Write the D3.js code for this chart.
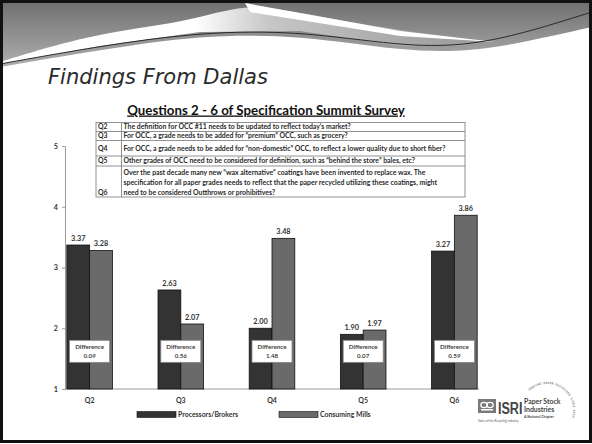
<!DOCTYPE html>
<html><head><meta charset="utf-8">
<script src="https://cdn.jsdelivr.net/npm/d3@7"></script>
<style>body{margin:0;background:#fff}svg{display:block}</style>
</head><body>
<svg id="c" width="592" height="444"></svg>
<script>
// ---------- data ----------
const categories = ["Q2", "Q3", "Q4", "Q5", "Q6"];
const seriesNames = ["Processors/Brokers", "Consuming Mills"];
const processors = [3.37, 2.63, 2.00, 1.90, 3.27];
const mills = [3.28, 2.07, 3.48, 1.97, 3.86];
const yTickValues = [1, 2, 3, 4, 5];
const slideTitle = "Findings From Dallas";
const chartTitle = "Questions 2 - 6 of Specification Summit Survey";
const questionIds = ["Q2", "Q3", "Q4", "Q5", "Q6"];
const questionLines = [
  ["The definition for OCC #11 needs to be updated to reflect today\u2019s market?"],
  ["For OCC, a grade needs to be added for \u201cpremium\u201d OCC, such as grocery?"],
  ["For OCC, a grade needs to be added for \u201cnon-domestic\u201d OCC, to reflect a lower quality due to short fiber?"],
  ["Other grades of OCC need to be considered for definition, such as \u201cbehind the store\u201d bales, etc?"],
  ["Over the past decade many new \u201cwax alternative\u201d coatings have been invented to replace wax.  The",
   "specification for all paper grades needs to reflect that the paper recycled utilizing these coatings, might",
   "need to be considered Outthrows or prohibitives?"]
];
const diffLabel = "Difference";
const logoArcText = "SERVING PAPER RECYCLERS SINCE 1925";

// ---------- drawing ----------
const svg = d3.select("#c");
const FONT = "Lato, 'Open Sans', sans-serif";
const defs = svg.append("defs");

// header decoration
const gTop = defs.append("linearGradient").attr("id", "gTop").attr("x1", 0).attr("y1", 0).attr("x2", 0).attr("y2", 1);
gTop.append("stop").attr("offset", "0%").attr("stop-color", "#6e6e6e");
gTop.append("stop").attr("offset", "100%").attr("stop-color", "#b4b4b4");
const gMid = defs.append("linearGradient").attr("id", "gMid").attr("x1", 0).attr("y1", 0).attr("x2", 1).attr("y2", 0);
gMid.append("stop").attr("offset", "0%").attr("stop-color", "#ffffff");
gMid.append("stop").attr("offset", "40%").attr("stop-color", "#ffffff");
gMid.append("stop").attr("offset", "55%").attr("stop-color", "#c6c6c6");
gMid.append("stop").attr("offset", "85%").attr("stop-color", "#a6a6a6");
gMid.append("stop").attr("offset", "100%").attr("stop-color", "#9a9a9a");

const smooth = d3.line().curve(d3.curveBasis);
svg.append("rect").attr("x", 0).attr("y", 0).attr("width", 592).attr("height", 72).attr("fill", "url(#gTop)");
const lowerEdge = [[0,67],[100,50],[200,35],[300,35],[400,51],[470,52],[530,41],[592,27]];
svg.append("path").attr("d", smooth(lowerEdge) + "L592,80L0,80Z").attr("fill", "#fff");
const lineT = [[0,64],[100,46],[200,32],[300,31],[400,46],[465,46],[520,34],[560,22],[592,12]];
const upperU = [[0,62],[90,34],[190,22],[245,3],[300,13],[400,31],[490,41]];
const tBack = lineT.filter(p => p[0] <= 490).slice().reverse();
svg.append("path").attr("d", smooth(upperU) + "L" + tBack.map(p => p.join(",")).join("L") + "Z")
  .attr("fill", "url(#gMid)");
const streak = [[245,3],[300,13],[400,31],[495,42],[400,36],[300,20],[250,12],[245,3]];
svg.append("path").attr("d", d3.line().curve(d3.curveLinearClosed)(streak)).attr("fill", "#fff");
svg.append("path").attr("d", smooth(lineT)).attr("fill", "none").attr("stroke", "#2a2a2a").attr("stroke-width", 1);

// slide title
svg.append("text").attr("x", 48).attr("y", 84).text(slideTitle)
  .attr("font-family", "'DejaVu Sans', Verdana, sans-serif").attr("font-style", "italic")
  .attr("font-size", 21).attr("fill", "#2a2a2a");

// chart title
svg.append("text").attr("x", 266).attr("y", 114.5).attr("text-anchor", "middle").text(chartTitle)
  .attr("font-family", FONT).attr("font-weight", "bold").attr("font-size", 13.3)
  .attr("text-decoration", "underline").attr("fill", "#111");

// scales
const y = d3.scaleLinear().domain([1, 5]).range([389, 146]);
const x = d3.scaleBand().domain(categories).range([65, 479]).paddingInner(0.5).paddingOuter(0.02);
const xs = d3.scaleBand().domain(seriesNames).range([0, x.bandwidth()]);
const colors = d3.scaleOrdinal().domain(seriesNames).range(["#333333", "#6a6a6a"]);

// y axis
const yAxis = svg.append("g").attr("transform", "translate(65,0)")
  .call(d3.axisLeft(y).tickValues(yTickValues).tickFormat(d3.format("d")).tickSize(3).tickPadding(4));
yAxis.attr("font-family", FONT).attr("font-size", 7.2);
yAxis.select(".domain").attr("stroke", "#9a9a9a");
yAxis.selectAll(".tick line").attr("stroke", "#9a9a9a");
yAxis.selectAll("text").attr("font-family", FONT).attr("font-weight", "bold").attr("font-size", 7.2).attr("fill", "#333");

// question table
const rowEdges = [122.5, 131.5, 140.5, 156, 166, 197];
const TFS = 6.9;
const tbl = svg.append("g");
tbl.append("rect").attr("x", 96).attr("y", rowEdges[0]).attr("width", 369).attr("height", rowEdges[5] - rowEdges[0])
  .attr("fill", "#fff").attr("stroke", "#777").attr("stroke-width", 0.8);
rowEdges.slice(1, 5).forEach(e => tbl.append("line").attr("x1", 96).attr("x2", 465).attr("y1", e).attr("y2", e)
  .attr("stroke", "#777").attr("stroke-width", 0.8));
tbl.append("line").attr("x1", 121.5).attr("x2", 121.5).attr("y1", rowEdges[0]).attr("y2", rowEdges[5])
  .attr("stroke", "#777").attr("stroke-width", 0.8);
questionIds.forEach((q, i) => {
  const lines = questionLines[i];
  const bottom = rowEdges[i + 1];
  const top = rowEdges[i];
  const lh = 10;
  const firstBase = lines.length > 1 ? top + 9 : (top + bottom) / 2 + 2.4;
  tbl.append("text").attr("x", 98).attr("y", firstBase + (lines.length - 1) * lh).text(q)
    .attr("font-family", FONT).attr("font-weight", "bold").attr("font-size", TFS).attr("fill", "#2a2a2a");
  lines.forEach((ln, j) => tbl.append("text").attr("x", 123.5).attr("y", firstBase + j * lh).text(ln)
    .attr("font-family", FONT).attr("font-weight", "bold").attr("font-size", TFS).attr("fill", "#2a2a2a"));
});

// x axis line
svg.append("line").attr("x1", 65).attr("x2", 479).attr("y1", y(1)).attr("y2", y(1)).attr("stroke", "#9a9a9a");

// bars
const rows = categories.map((c, i) => ({ cat: c, vals: [processors[i], mills[i]] }));
const groups = svg.append("g").selectAll("g").data(rows).join("g")
  .attr("transform", d => `translate(${x(d.cat)},0)`);
groups.selectAll("rect").data(d => d.vals.map((v, k) => ({ s: seriesNames[k], v }))).join("rect")
  .attr("x", d => xs(d.s)).attr("width", xs.bandwidth())
  .attr("y", d => y(d.v)).attr("height", d => y(1) - y(d.v))
  .attr("fill", d => colors(d.s)).attr("stroke", "#111").attr("stroke-width", 0.8);
groups.selectAll("text.val").data(d => d.vals.map((v, k) => ({ s: seriesNames[k], v }))).join("text")
  .attr("class", "val").attr("x", d => xs(d.s) + xs.bandwidth() / 2).attr("y", d => y(d.v) - 4)
  .attr("text-anchor", "middle").text(d => d.v.toFixed(2))
  .attr("font-family", FONT).attr("font-weight", "bold").attr("font-size", 7.3).attr("fill", "#333");

// difference boxes
const boxes = groups.append("g").attr("transform", `translate(${x.bandwidth() / 2},${y(1.62)})`);
boxes.append("rect").attr("x", -20).attr("y", -11).attr("width", 40).attr("height", 22)
  .attr("fill", "#fff").attr("stroke", "#888").attr("stroke-width", 0.8);
boxes.append("text").attr("y", -2).attr("text-anchor", "middle").text(diffLabel)
  .attr("font-family", FONT).attr("font-weight", "bold").attr("font-size", 6.2).attr("fill", "#444");
boxes.append("text").attr("y", 7).attr("text-anchor", "middle").text(d => Math.abs(d.vals[0] - d.vals[1]).toFixed(2))
  .attr("font-family", FONT).attr("font-weight", "bold").attr("font-size", 6.2).attr("fill", "#444");

// category labels
svg.append("g").selectAll("text").data(categories).join("text")
  .attr("x", d => x(d) + x.bandwidth() / 2).attr("y", 402.5).attr("text-anchor", "middle").text(d => d)
  .attr("font-family", FONT).attr("font-weight", "bold").attr("font-size", 7).attr("fill", "#333");

// legend
const legX = [137, 279];
const leg = svg.append("g").selectAll("g").data(seriesNames).join("g")
  .attr("transform", (d, i) => `translate(${legX[i]},411.5)`);
leg.append("rect").attr("width", 39).attr("height", 6).attr("fill", d => colors(d)).attr("stroke", "#111").attr("stroke-width", 0.6);
leg.append("text").attr("x", 41).attr("y", 5.6).text(d => d)
  .attr("font-family", FONT).attr("font-weight", "bold").attr("font-size", 6.9).attr("fill", "#333");

// logo
const logo = svg.append("g");
logo.append("rect").attr("x", 478).attr("y", 399).attr("width", 18).attr("height", 14).attr("fill", "#7a7a7a");
logo.append("ellipse").attr("cx", 484).attr("cy", 405).attr("rx", 3.2).attr("ry", 2.6).attr("fill", "none").attr("stroke", "#fff").attr("stroke-width", 1.2);
logo.append("ellipse").attr("cx", 490).attr("cy", 405).attr("rx", 3.2).attr("ry", 2.6).attr("fill", "none").attr("stroke", "#fff").attr("stroke-width", 1.2);
logo.append("rect").attr("x", 481).attr("y", 409).attr("width", 12).attr("height", 1.5).attr("fill", "#fff");
logo.append("text").attr("transform", "translate(498,414) scale(0.74,1)").text("ISRI")
  .attr("font-family", "'Liberation Sans Narrow', 'Liberation Sans', sans-serif")
  .attr("font-weight", "bold").attr("font-size", 17).attr("fill", "#444");
logo.append("text").attr("x", 524).attr("y", 403.5).text("Paper Stock").attr("font-family", FONT).attr("font-weight", "bold").attr("font-size", 6.9).attr("fill", "#444");
logo.append("text").attr("x", 524).attr("y", 412).text("Industries").attr("font-family", FONT).attr("font-weight", "bold").attr("font-size", 6.9).attr("fill", "#444");
logo.append("text").attr("x", 524).attr("y", 418).text("A National Chapter").attr("font-family", FONT).attr("font-weight", "bold").attr("font-size", 3.5).attr("fill", "#444");
logo.append("text").attr("x", 478).attr("y", 422).text("Voice of the Recycling Industry").attr("font-family", FONT).attr("font-size", 3).attr("fill", "#555");
// arc text around the seal, one glyph per element
const arcC = [547, 410], arcR = 26, arcStep = 2.0, arcStart = -133 * Math.PI / 180;
logo.append("g").selectAll("text").data(logoArcText.split("")).join("text")
  .attr("transform", (ch, i) => {
    const a = arcStart + (i * arcStep + arcStep / 2) / arcR;
    return `translate(${arcC[0] + arcR * Math.cos(a)},${arcC[1] + arcR * Math.sin(a)}) rotate(${a * 180 / Math.PI + 90})`;
  })
  .attr("text-anchor", "middle").text(ch => ch)
  .attr("font-family", FONT).attr("font-weight", "bold").attr("font-size", 3).attr("fill", "#777");

// slide border
svg.append("rect").attr("x", 1.5).attr("y", 1.5).attr("width", 589).attr("height", 440).attr("fill", "none")
  .attr("stroke", "#111").attr("stroke-width", 3);
</script>
</body></html>
